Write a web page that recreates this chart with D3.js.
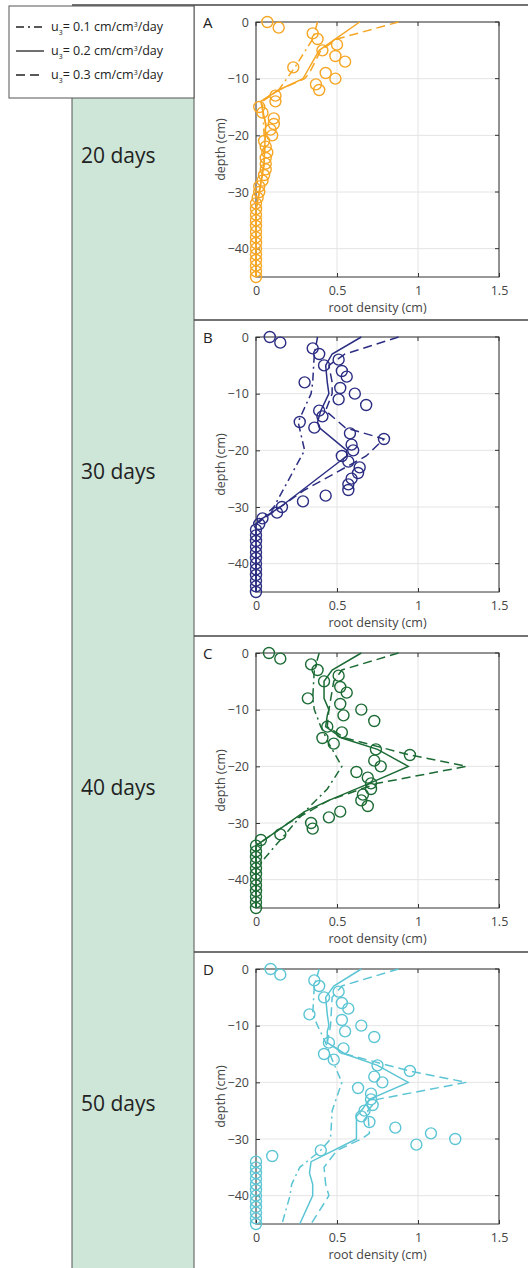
<!DOCTYPE html>
<html><head><meta charset="utf-8">
<script src="https://cdn.jsdelivr.net/npm/d3@7"></script>
<style>body{margin:0;background:#fff}svg{font-family:"Open Sans","Noto Sans",sans-serif}</style>
</head><body><svg id="c" width="528" height="1268"></svg>
<script>
var depths = d3.range(0, -46, -1);
var panelLetters = ['A', 'B', 'C', 'D'];
var dayLabels = ['20 days', '30 days', '40 days', '50 days'];
var colors = ['#f6a623', '#2b2d82', '#1c6b35', '#5cc5d4'];
var xTicks = [0, 0.5, 1, 1.5];
var yTicks = [0, -10, -20, -30, -40];
var legendLabels = ['0.1', '0.2', '0.3'];
var legendDash = ['8,4,2,4', null, '9,5'];

// observed root density, one value per cm depth (0 .. -45)
var obsA = [0.07,0.14,0.35,0.38,0.5,0.41,0.49,0.55,0.23,0.43,0.49,0.37,0.39,0.12,0.12,0.02,0.04,0.11,0.11,0.09,0.1,0.05,0.06,0.07,0.06,0.06,0.06,0.05,0.04,0.02,0.02,0.01];
var obsB = [0.085,0.15,0.35,0.39,0.51,0.42,0.53,0.56,0.3,0.52,0.61,0.51,0.68,0.39,0.41,0.27,0.36,0.58,0.79,0.59,0.6,0.53,0.57,0.64,0.63,0.59,0.57,0.57,0.43,0.29,0.16,0.13,0.04,0.02];
var obsC = [0.08,0.15,0.34,0.38,0.51,0.42,0.52,0.56,0.32,0.52,0.65,0.54,0.73,0.44,0.53,0.41,0.48,0.74,0.95,0.73,0.77,0.62,0.69,0.71,0.71,0.66,0.65,0.69,0.52,0.45,0.34,0.35,0.15,0.03];
var obsD = [0.09,0.15,0.36,0.39,0.51,0.42,0.53,0.57,0.33,0.53,0.65,0.55,0.73,0.45,0.54,0.42,0.48,0.75,0.95,0.73,0.78,0.63,0.71,0.71,0.72,0.67,0.65,0.7,0.86,1.08,1.23,0.99,0.4,0.1];

// model curves [value, depth]
var u1A = [[0.38,0],[0.35,-3],[0.24,-8],[0.14,-12],[0.04,-14],[0.05,-20],[0.05,-25],[0.02,-30],[0,-33],[0,-45]];
var u2A = [[0.64,0],[0.39,-5],[0.31,-9],[0.29,-10],[0.14,-12],[0.03,-14],[0.06,-18],[0.05,-25],[0.02,-30],[0,-33],[0,-45]];
var u3A = [[0.88,0],[0.5,-3],[0.4,-5],[0.33,-9],[0.3,-10],[0.14,-12],[0.03,-14],[0.06,-18],[0.05,-25],[0.02,-30],[0,-33],[0,-45]];
var u1B = [[0.38,0],[0.36,-3],[0.35,-8],[0.34,-10],[0.26,-15],[0.3,-20],[0.11,-30],[0,-33],[0,-45]];
var u2B = [[0.65,0],[0.47,-3],[0.43,-5],[0.44,-8],[0.45,-10],[0.4,-13],[0.38,-15],[0.39,-16],[0.56,-20],[0.56,-21],[0.15,-30],[0.04,-32],[0,-33],[0,-45]];
var u3B = [[0.88,0],[0.55,-3],[0.45,-5],[0.47,-8],[0.47,-10],[0.43,-13],[0.55,-16],[0.79,-18],[0.68,-21],[0.3,-27],[0.1,-31],[0,-33],[0,-45]];
var u1C = [[0.39,0],[0.36,-3],[0.35,-8],[0.36,-10],[0.4,-13],[0.45,-16],[0.53,-20],[0.44,-24],[0.3,-28],[0.15,-33],[0.03,-37],[0,-38],[0,-45]];
var u2C = [[0.65,0],[0.47,-3],[0.42,-5],[0.42,-8],[0.45,-10],[0.44,-11],[0.43,-13],[0.53,-15],[0.75,-17],[0.94,-20],[0.7,-23],[0.45,-26],[0.3,-28],[0.1,-32],[0,-34],[0,-45]];
var u3C = [[0.88,0],[0.53,-3],[0.48,-5],[0.45,-10],[0.44,-13],[0.55,-15],[0.95,-18],[1.3,-20],[0.75,-23],[0.45,-26],[0.2,-30],[0.05,-33],[0,-34],[0,-45]];
var u1D = [[0.39,0],[0.36,-3],[0.35,-8],[0.38,-10],[0.43,-13],[0.47,-16],[0.53,-20],[0.47,-25],[0.46,-30],[0.4,-32],[0.27,-35],[0.22,-38],[0.21,-40],[0.16,-45]];
var u2D = [[0.65,0],[0.48,-3],[0.43,-5],[0.44,-8],[0.45,-10],[0.44,-11],[0.44,-13],[0.55,-15],[0.75,-17],[0.94,-20],[0.7,-23],[0.65,-25],[0.62,-26],[0.62,-30],[0.34,-34],[0.33,-36],[0.35,-38],[0.35,-40],[0.27,-45]];
var u3D = [[0.88,0],[0.53,-3],[0.47,-5],[0.46,-10],[0.44,-13],[0.55,-15],[0.95,-18],[1.3,-20],[0.75,-23],[0.69,-25],[0.7,-29],[0.65,-30],[0.5,-32],[0.42,-35],[0.43,-38],[0.45,-40],[0.34,-45]];

var observed = [obsA, obsB, obsC, obsD];
var models = [[u1A,u2A,u3A],[u1B,u2B,u3B],[u1C,u2C,u3C],[u1D,u2D,u3D]];

var svg = d3.select('#c');
var bandH = 316;

// frame
svg.append('rect').attr('x', 72).attr('y', 98).attr('width', 122).attr('height', 1170).attr('fill', '#cde6d8');
svg.append('line').attr('x1', 72).attr('x2', 72).attr('y1', 98).attr('y2', 1268).attr('stroke', '#555');
svg.append('line').attr('x1', 194).attr('x2', 194).attr('y1', 5).attr('y2', 1268).attr('stroke', '#555');
[5, 320, 636, 952].forEach(function(y, i){
  svg.append('line').attr('x1', i == 0 ? 72 : 194).attr('x2', 528).attr('y1', y).attr('y2', y).attr('stroke', '#444').attr('stroke-width', 1.5);
});
svg.append('rect').attr('x', 9).attr('y', 6).attr('width', 185).attr('height', 92).attr('fill', '#fff').attr('stroke', '#555');

legendLabels.forEach(function(l, i){
  var y = 27 + i * 24;
  svg.append('line').attr('x1', 16).attr('x2', 44).attr('y1', y).attr('y2', y)
    .attr('stroke', '#222').attr('stroke-width', 1.3).attr('stroke-dasharray', legendDash[i]);
  var t = svg.append('text').attr('x', 51).attr('y', y + 4).attr('font-size', 12.5).attr('fill', '#222');
  t.append('tspan').text('u');
  t.append('tspan').attr('font-size', 7).attr('dy', 4).text('3');
  t.append('tspan').attr('dy', -4).text('= ' + l + ' cm/cm');
  t.append('tspan').attr('font-size', 7).attr('dy', -4).text('3');
  t.append('tspan').attr('dy', 4).text('/day');
});

var x = d3.scaleLinear().domain([0, 1.5]).range([256, 499]);

panelLetters.forEach(function(letter, p){
  var top = 22 + p * bandH + (p == 0 ? 0 : -1);
  var y = d3.scaleLinear().domain([0, -45]).range([top, top + 255]);
  var g = svg.append('g');
  var col = colors[p];

  svg.append('text').attr('x', 81).attr('y', 163 + p * bandH).attr('font-size', 21).attr('fill', '#222').text(dayLabels[p]);
  g.append('text').attr('x', 203).attr('y', top + 6).attr('font-size', 15).attr('fill', '#222').text(letter);

  // grid
  g.selectAll('.gx').data(xTicks).enter().append('line')
    .attr('x1', d => x(d)).attr('x2', d => x(d)).attr('y1', y(0)).attr('y2', y(-45)).attr('stroke', '#e4e4e4');
  g.selectAll('.gy').data(yTicks).enter().append('line')
    .attr('x1', x(0)).attr('x2', x(1.5)).attr('y1', d => y(d)).attr('y2', d => y(d)).attr('stroke', '#e4e4e4');
  g.append('rect').attr('x', x(0)).attr('y', y(0)).attr('width', x(1.5) - x(0)).attr('height', y(-45) - y(0))
    .attr('fill', 'none').attr('stroke', '#333').attr('stroke-width', 1);

  var ax = g.append('g').attr('transform', 'translate(0,' + y(-45) + ')')
    .call(d3.axisBottom(x).tickValues(xTicks).tickFormat(d3.format('~g')).tickSize(-4).tickPadding(9));
  var ay = g.append('g').attr('transform', 'translate(' + x(0) + ',0)')
    .call(d3.axisLeft(y).tickValues(yTicks).tickFormat(d3.format('~g')).tickSize(-4).tickPadding(7));
  [ax, ay].forEach(function(a){
    a.select('.domain').remove();
    a.selectAll('line').attr('stroke', '#333');
    a.selectAll('text').attr('font-size', 12.5).attr('fill', '#444').attr('font-family', '"Open Sans",sans-serif');
  });
  // right/top ticks
  g.selectAll('.rt').data(yTicks).enter().append('line')
    .attr('x1', x(1.5)).attr('x2', x(1.5) - 4).attr('y1', d => y(d)).attr('y2', d => y(d)).attr('stroke', '#333');
  g.selectAll('.tt').data(xTicks).enter().append('line')
    .attr('x1', d => x(d)).attr('x2', d => x(d)).attr('y1', y(0)).attr('y2', y(0) + 4).attr('stroke', '#333');

  g.append('text').attr('x', x(0.75)).attr('y', y(-45) + 35).attr('text-anchor', 'middle')
    .attr('font-size', 12.5).attr('fill', '#444').text('root density (cm)');
  g.append('text').attr('transform', 'translate(225,' + ((y(0) + y(-45)) / 2) + ') rotate(-90)')
    .attr('text-anchor', 'middle').attr('font-size', 12.5).attr('fill', '#444').text('depth (cm)');

  var line = d3.line().x(d => x(d[0])).y(d => y(d[1]));
  models[p].forEach(function(m, k){
    g.append('path').datum(m).attr('d', line).attr('fill', 'none').attr('stroke', col)
      .attr('stroke-width', 1.5).attr('stroke-dasharray', legendDash[k]);
  });

  var obs = depths.map(function(d, i){ return [observed[p][i] || 0, d]; });
  g.selectAll('.pt').data(obs).enter().append('circle')
    .attr('cx', d => x(d[0])).attr('cy', d => y(d[1])).attr('r', 5.5)
    .attr('fill', 'none').attr('stroke', col).attr('stroke-width', 1.4);
});
</script></body></html>
